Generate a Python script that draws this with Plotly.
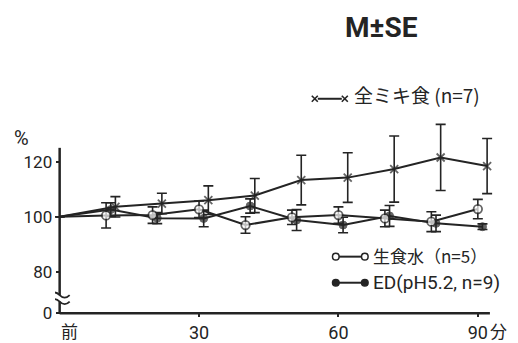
import plotly.graph_objects as go

# ---------------- data ----------------
# 全ミキ食 (n=7)
t_zenmiki = [0, 12, 22, 32, 42, 52, 62, 72, 82, 92]
v_zenmiki = [100, 103.6, 104.8, 106.0, 107.7, 113.3, 114.2, 117.3, 121.5, 118.4]
se_zenmiki = [0, 3.7, 3.7, 5.2, 6.2, 9.0, 9.0, 12.0, 12.0, 10.0]

# 生食水 (n=5)
t_water = [0, 10, 20, 30, 40, 50, 60, 70, 80, 90]
v_water = [100, 100.5, 100.6, 102.7, 97.0, 99.8, 100.6, 99.4, 98.2, 102.8]
se_water = [0, 4.6, 3.0, 3.0, 3.0, 2.6, 3.0, 3.0, 3.6, 3.5]

# ED (pH5.2, n=9)
t_ed = [0, 11, 21, 31, 41, 51, 61, 71, 81, 91]
v_ed = [100, 102.6, 99.5, 99.4, 103.9, 98.8, 97.0, 100.3, 97.6, 96.4]
se_ed = [0, 2.5, 2.0, 3.0, 2.6, 3.8, 2.8, 3.8, 3.0, 1.0]

# axis ticks
y_tickvals = [65, 80, 100, 120]
y_ticktext = ["0", "80", "100", "120"]
x_tickvals = [30, 60, 90]
x_ticktext = ["30", "60", "90"]

# ---------------- style ----------------
INK = "#242424"
SANS = "Roboto, Liberation Sans, sans-serif"
CJK = "Noto Sans CJK JP, Noto Sans CJK SC, sans-serif"

W_FIG, H_FIG = 518, 343
X_RANGE = [-1, 98]
Y_RANGE = [64, 138]
L, R, T, B = 55.36, 2.9, 112.2, 27.3
PW = W_FIG - L - R
PH = H_FIG - T - B


def px(x):
    return (x - L) / PW


def py(y):
    return (T + PH - y) / PH


def sizes(n, s):
    return [0] + [s] * (n - 1)


fig = go.Figure()

err_style = dict(type="data", visible=True, color=INK, thickness=1.6, width=5)

fig.add_trace(go.Scatter(
    x=t_zenmiki, y=v_zenmiki, mode="lines+markers",
    line=dict(color=INK, width=2),
    marker=dict(symbol="x-thin", size=sizes(len(t_zenmiki), 8),
                line=dict(color=INK, width=1.8), color=INK),
    error_y=dict(array=se_zenmiki, **err_style),
    cliponaxis=False, showlegend=False,
))
fig.add_trace(go.Scatter(
    x=t_ed, y=v_ed, mode="lines+markers",
    line=dict(color=INK, width=2),
    marker=dict(symbol="circle", size=sizes(len(t_ed), 8), color=INK,
                line=dict(color=INK, width=1)),
    error_y=dict(array=se_ed, **err_style),
    cliponaxis=False, showlegend=False,
))
fig.add_trace(go.Scatter(
    x=t_water, y=v_water, mode="lines+markers",
    line=dict(color=INK, width=2),
    marker=dict(symbol="circle", size=sizes(len(t_water), 8.5), color="white",
                line=dict(color=INK, width=1.8)),
    error_y=dict(array=se_water, **err_style),
    cliponaxis=False, showlegend=False,
))

shapes = []
# axis lines (y axis broken near the bottom)
shapes.append(dict(type="line", xref="x", yref="y", x0=0, x1=0, y0=65, y1=69.2,
                   line=dict(color=INK, width=2.5)))
shapes.append(dict(type="line", xref="x", yref="y", x0=0, x1=0, y0=71.6, y1=125,
                   line=dict(color=INK, width=2.5)))
shapes.append(dict(type="line", xref="x", yref="y", x0=0, x1=92.6, y0=65, y1=65,
                   line=dict(color=INK, width=2.5)))
# axis break marks
for yc in (69.2, 71.6):
    shapes.append(dict(type="path", xref="x", yref="y", xsizemode="pixel", ysizemode="pixel",
                       xanchor=0, yanchor=yc,
                       path="M -10,0 Q -5,5 0,0 T 10,0",
                       line=dict(color=INK, width=1.8)))


# legend glyphs
def hline(x0, x1, y):
    return dict(type="line", xref="paper", yref="paper", x0=px(x0), x1=px(x1), y0=py(y), y1=py(y),
                line=dict(color=INK, width=2))


def circ(xc, yc, r, fill):
    return dict(type="circle", xref="paper", yref="paper",
                x0=px(xc - r), x1=px(xc + r), y0=py(yc + r), y1=py(yc - r),
                fillcolor=fill, line=dict(color=INK, width=1.5))


def xmark(xc, yc, r):
    return dict(type="path", xref="paper", yref="paper",
                path=f"M {px(xc - r)},{py(yc - r)} L {px(xc + r)},{py(yc + r)} "
                     f"M {px(xc - r)},{py(yc + r)} L {px(xc + r)},{py(yc - r)}",
                line=dict(color=INK, width=1.6))


shapes += [hline(318, 342, 99), xmark(315, 99, 3), xmark(345, 99, 3)]
shapes += [hline(337, 364, 256.5), circ(336, 256.5, 3.3, "white"), circ(365, 256.5, 3.3, "white")]
shapes += [hline(337, 364, 282.5), circ(336, 282.5, 3.3, INK), circ(365, 282.5, 3.3, INK)]

annotations = []


def ann(text, x, y, size, family, xanchor="center", weight="normal"):
    annotations.append(dict(text=text, xref="paper", yref="paper", x=px(x), y=py(y),
                            xanchor=xanchor, yanchor="middle", showarrow=False,
                            font=dict(size=size, family=family, color=INK, weight=weight)))


ann("%", 22, 138, 20, SANS)
ann("M±SE", 382, 28, 28, SANS, weight="bold")
ann("全ミキ食 (n=7)", 352, 95, 19, CJK, xanchor="left")
ann("生食水（n=5）", 371, 255, 17, CJK, xanchor="left")
ann("ED(pH5.2, n=9)", 371, 282, 19, SANS, xanchor="left")
ann("前", 59, 330, 17, CJK, xanchor="left")
ann("分", 488, 330, 17, CJK, xanchor="left")

fig.update_layout(
    width=W_FIG, height=H_FIG,
    margin=dict(l=L, r=R, t=T, b=B, pad=0, autoexpand=False),
    paper_bgcolor="white", plot_bgcolor="white",
    xaxis=dict(range=X_RANGE, tickvals=x_tickvals, ticktext=x_ticktext,
               ticks="outside", ticklen=3, tickwidth=2, tickcolor=INK,
               showgrid=False, zeroline=False, showline=False, automargin=False,
               anchor="free", position=(65 - Y_RANGE[0]) / (Y_RANGE[1] - Y_RANGE[0]),
               tickfont=dict(size=18, family=SANS, color=INK)),
    yaxis=dict(range=Y_RANGE, tickvals=y_tickvals, ticktext=y_ticktext,
               ticks="outside", ticklen=4, tickwidth=2, tickcolor=INK,
               showgrid=False, zeroline=False, showline=False, automargin=False,
               anchor="free", position=(0 - X_RANGE[0]) / (X_RANGE[1] - X_RANGE[0]),
               tickfont=dict(size=17, family=SANS, color=INK)),
    shapes=shapes, annotations=annotations,
)

fig.write_html(
    "out.html",
    config={"displayModeBar": False},
    post_script="document.body.style.margin='0';document.body.style.overflow='hidden';",
)
